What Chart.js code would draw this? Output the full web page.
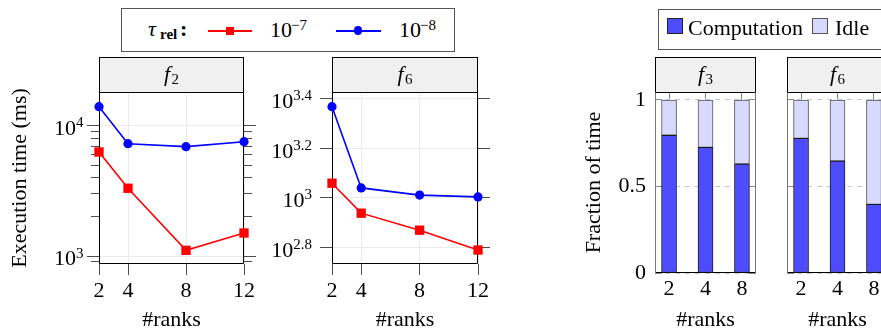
<!DOCTYPE html>
<html><head><meta charset="utf-8">
<script src="https://cdn.jsdelivr.net/npm/chart.js@4.4.1/dist/chart.umd.min.js"></script>
<style>
html,body{margin:0;padding:0;background:#fff;}
#wrap{position:relative;width:881px;height:333px;overflow:hidden;font-family:'Liberation Serif','Times New Roman',serif;color:#000;}
.pane{position:absolute;left:0;top:0;height:333px;}
.t{position:absolute;white-space:nowrap;}
.box{position:absolute;box-sizing:border-box;border:1px solid #555;background:#fff;}
</style></head><body>
<div id="wrap">
  <div class="pane" style="width:881px"><canvas id="cA"></canvas></div>
  <div class="pane" style="width:881px"><canvas id="cB"></canvas></div>
  <div class="pane" style="width:881px"><canvas id="cC"></canvas></div>
  <div class="pane" style="width:960px"><canvas id="cD"></canvas></div>

  <!-- legend 1 -->
  <div class="box" style="left:121px;top:8px;width:334px;height:44px;"></div>
  <span class="t" style="left:148px;top:18px;font-size:22px;line-height:22px;font-style:italic;">τ</span>
  <span class="t" style="left:160px;top:26.5px;font-size:15px;line-height:15px;font-weight:bold;">rel</span>
  <span class="t" style="left:180px;top:18px;font-size:22px;line-height:22px;font-weight:bold;">:</span>
  <div style="position:absolute;left:208px;top:30px;width:44px;height:1.6px;background:#f00;"></div>
  <div style="position:absolute;left:225.5px;top:26.5px;width:8.5px;height:8.5px;background:#f00;"></div>
  <span class="t" style="left:270px;top:19px;font-size:22px;line-height:22px;">10</span>
  <span class="t" style="left:291px;top:18px;font-size:15px;line-height:15px;">−7</span>
  <div style="position:absolute;left:336px;top:30px;width:45px;height:1.6px;background:#00f;"></div>
  <div style="position:absolute;left:353.7px;top:26.4px;width:8.8px;height:8.8px;border-radius:50%;background:#00f;"></div>
  <span class="t" style="left:399px;top:19px;font-size:22px;line-height:22px;">10</span>
  <span class="t" style="left:420px;top:18px;font-size:15px;line-height:15px;">−8</span>

  <!-- legend 2 -->
  <div class="box" style="left:658px;top:9px;width:300px;height:41px;"></div>
  <div style="position:absolute;box-sizing:border-box;left:667px;top:18px;width:16px;height:16px;background:#4d4dff;border:1px solid #222;"></div>
  <span class="t" style="left:688px;top:16.6px;font-size:22px;line-height:22px;">Computation</span>
  <div style="position:absolute;box-sizing:border-box;left:812px;top:18px;width:16px;height:16px;background:#d9d9ff;border:1px solid #555;"></div>
  <span class="t" style="left:835px;top:16.6px;font-size:22px;line-height:22px;">Idle</span>
</div>
<script>
// ---------- data ----------
const ranks = [2, 4, 8, 12];
const f2Tau7 = [6310, 3320, 1106, 1503];
const f2Tau8 = [14070, 7310, 6934, 7570];
const f6Tau7 = [1146, 867, 740, 615];
const f6Tau8 = [2338, 1097, 1026, 1009];
const f2MajorExp = [3, 4];
const f2MinorTicks = [900, 2000, 3000, 4000, 5000, 6000, 7000, 8000, 9000];
const f6MajorExp = [2.8, 3, 3.2, 3.4];
const f6MinorTicks = [];

const barRanks = ['2', '4', '8'];
const f3Comp = [0.796, 0.726, 0.630];
const f3Idle = [0.204, 0.274, 0.370];
const f6Comp = [0.778, 0.647, 0.397];
const f6Idle = [0.222, 0.353, 0.603];
const fracTicks = [0, 0.5, 1];

// ---------- setup ----------
const FONT = "'Liberation Serif','Times New Roman',serif";
Chart.defaults.font.family = FONT;
Chart.defaults.font.size = 22;
Chart.defaults.color = '#000';
const HEADER_H = 35;
const H = 333;

// header strip (grey box with italic f and upright subscript) + plot frame
const panelFrame = {
  id: 'panelFrame',
  beforeDraw(chart, args, o) {
    const {left, right, top} = chart.chartArea; const ctx = chart.ctx;
    ctx.save(); ctx.fillStyle = '#f0f0f0';
    ctx.fillRect(left, top - HEADER_H, right - left, HEADER_H);
    // header text
    ctx.fillStyle = '#000'; ctx.textBaseline = 'alphabetic'; ctx.textAlign = 'left';
    ctx.font = 'italic 22px ' + FONT;
    const fw = ctx.measureText(o.name).width;
    ctx.font = '15px ' + FONT;
    const sw = ctx.measureText(o.sub).width;
    const gap = 1.5;
    const x0 = (left + right) / 2 - (fw + gap + sw) / 2;
    ctx.font = 'italic 22px ' + FONT;
    ctx.fillText(o.name, x0, top - 11);
    ctx.font = '15px ' + FONT;
    ctx.fillText(o.sub, x0 + fw + gap, top - 8);
    ctx.restore();
  },
  beforeDatasetsDraw(chart, args, o) {
    const {left, right, top, bottom} = chart.chartArea; const ctx = chart.ctx;
    const l = Math.round(left) + 0.5, r = Math.round(right) - 0.5, t = Math.round(top) + 0.5,
          b = Math.round(bottom) - 0.5, h = Math.round(top - HEADER_H) + 0.5;
    ctx.save(); ctx.lineWidth = 1;
    ctx.strokeStyle = '#000';
    ctx.strokeRect(l, h, r - l, t - h);
    ctx.beginPath(); ctx.moveTo(l, t); ctx.lineTo(r, t); ctx.moveTo(l, b); ctx.lineTo(r, b); ctx.stroke();
    ctx.strokeStyle = o.side || '#000';
    ctx.beginPath(); ctx.moveTo(l, t); ctx.lineTo(l, b); ctx.moveTo(r, t); ctx.lineTo(r, b); ctx.stroke();
    ctx.restore();
  }
};

// log-axis tick labels 10^e with raised exponent, placed via the scale
const expLabels = {
  id: 'expLabels',
  afterDraw(chart, args, o) {
    if (!o || !o.items) return;
    const ctx = chart.ctx; const sc = chart.scales[o.axis];
    ctx.save(); ctx.fillStyle = '#000'; ctx.textBaseline = 'alphabetic'; ctx.textAlign = 'right';
    o.items.forEach(e => {
      const y = sc.getPixelForValue(Math.pow(10, e));
      const es = String(e);
      ctx.font = '15px ' + FONT;
      const ew = ctx.measureText(es).width;
      ctx.fillText(es, o.right, y + 1.5);
      ctx.font = '22px ' + FONT;
      ctx.fillText('10', o.right - ew, y + 9.3);
    });
    ctx.restore();
  }
};

function makeLine(id, c) {
  const majors = c.majorExp.map(e => Math.pow(10, e));
  const isMajor = v => majors.some(m => Math.abs(m - v) / m < 1e-9);
  const all = majors.concat(c.minor).sort((a, b) => a - b);
  const setTicks = s => { s.ticks = all.map(v => ({value: v})); };
  const tickCol = '#4d4d4d';
  return new Chart(document.getElementById(id), {
    type: 'line',
    data: { datasets: [
      { label: '1e-7', data: ranks.map((r, i) => ({x: r, y: c.s7[i]})), borderColor: '#ff0000', backgroundColor: '#ff0000',
        pointStyle: 'rect', pointRadius: 6.6, pointBorderWidth: 0, borderWidth: 1.6, clip: false },
      { label: '1e-8', data: ranks.map((r, i) => ({x: r, y: c.s8[i]})), borderColor: '#0000ff', backgroundColor: '#0000ff',
        pointStyle: 'circle', pointRadius: 4.6, pointBorderWidth: 0, borderWidth: 1.6, clip: false }
    ]},
    options: {
      animation: false, responsive: true, maintainAspectRatio: false,
      layout: { padding: { left: c.L - c.yW, right: c.W - c.R - c.y2W, top: c.T, bottom: H - c.B - c.xH } },
      plugins: {
        legend: {display: false}, tooltip: {enabled: false}, title: {display: false},
        expLabels: {axis: 'y', items: c.majorExp, right: c.labelRight},
        panelFrame: {name: c.header[0], sub: c.header[1]}
      },
      scales: {
        x: { type: 'linear', position: 'bottom', min: 2, max: 12,
             afterBuildTicks: s => { s.ticks = ranks.map(v => ({value: v})); },
             ticks: {autoSkip: false, maxRotation: 0, padding: 3.3, callback: v => String(v)},
             grid: {color: '#ebebeb', tickColor: tickCol, tickLength: 11, tickWidth: 1},
             border: {display: false},
             title: {display: true, text: '#ranks', padding: 0, color: '#000'},
             afterFit: s => { s.height = c.xH; s.paddingLeft = 0; s.paddingRight = 0; } },
        y: { type: 'logarithmic', position: 'left', min: c.yMin, max: c.yMax, afterBuildTicks: setTicks,
             ticks: {display: false},
             grid: {color: x => (x.tick && isMajor(x.tick.value)) ? '#ebebeb' : 'rgba(0,0,0,0)',
                    tickColor: tickCol, tickLength: 12, tickWidth: 1,
                    tickBorderDash: x => (x.tick && isMajor(x.tick.value)) ? [] : [0, 4, 100]},
             border: {display: false},
             title: {display: !!c.yTitle, text: c.yTitle || '', padding: 0, color: '#000'},
             afterFit: s => { s.width = c.yW; s.paddingTop = 0; s.paddingBottom = 0; } },
        y2: { type: 'logarithmic', position: 'right', min: c.yMin, max: c.yMax, afterBuildTicks: setTicks,
              ticks: {display: false},
              grid: {drawOnChartArea: false, color: tickCol, tickColor: tickCol, tickLength: 12, tickWidth: 1,
                     tickBorderDash: x => (x.tick && isMajor(x.tick.value)) ? [] : [8, 100]},
              border: {display: false},
              afterFit: s => { s.width = c.y2W; s.paddingTop = 0; s.paddingBottom = 0; } }
      }
    },
    plugins: [panelFrame, expLabels]
  });
}

function makeBar(id, c) {
  const innerW = c.R - c.L;
  return new Chart(document.getElementById(id), {
    type: 'bar',
    data: { datasets: [
      { label: 'Computation', data: c.comp.map((v, i) => ({x: i, y: v})), backgroundColor: '#4d4dff',
        borderColor: '#1a1a1a', borderWidth: 1, borderSkipped: false, barThickness: 15 },
      { label: 'Idle', data: c.idle.map((v, i) => ({x: i, y: v})), backgroundColor: '#d9d9ff',
        borderColor: '#555555', borderWidth: 1, borderSkipped: false, barThickness: 15 }
    ]},
    options: {
      animation: false, responsive: true, maintainAspectRatio: false,
      layout: { padding: { left: c.L - c.yW, right: c.W - c.R, top: c.T, bottom: H - c.B - c.xH } },
      plugins: {
        legend: {display: false}, tooltip: {enabled: false}, title: {display: false},
        panelFrame: {side: '#777', name: c.header[0], sub: c.header[1]}
      },
      scales: {
        x: { type: 'linear', position: 'bottom', stacked: true, offset: false, min: -0.385, max: 2.385,
             afterBuildTicks: s => { s.ticks = barRanks.map((r, i) => ({value: i})); },
             ticks: {autoSkip: false, maxRotation: 0, padding: 3.5, callback: v => barRanks[v]},
             grid: {offset: false, drawTicks: false, color: '#888'},
             border: {display: false, dash: [8, 3000]},
             title: {display: true, text: '#ranks', padding: 0, color: '#000'},
             afterFit: s => { s.height = c.xH; s.paddingLeft = 0; s.paddingRight = 0; } },
        y: { type: 'linear', position: 'left', stacked: true, min: 0, max: 1.046,
             afterBuildTicks: s => { s.ticks = fracTicks.map(v => ({value: v})); },
             ticks: {display: c.showY, padding: 9, callback: v => String(v)},
             grid: {drawTicks: false, color: '#c8c8c8'},
             border: {display: false, dash: [5, 5]},
             title: {display: !!c.yTitle, text: c.yTitle || '', padding: 0, color: '#000'},
             afterFit: s => { s.width = c.yW; s.paddingTop = 0; s.paddingBottom = 0; } },
        y2: { type: 'linear', position: 'right', min: 0, max: 1.046,
              afterBuildTicks: s => { s.ticks = fracTicks.map(v => ({value: v})); },
              ticks: {display: false},
              grid: {drawTicks: false, color: '#888'},
              border: {display: false, dash: [7, innerW - 14, 7, 3000]},
              afterFit: s => { s.width = 0; s.paddingTop = 0; s.paddingBottom = 0; } }
      }
    },
    plugins: [panelFrame]
  });
}

makeLine('cA', {W: 881, L: 99, R: 244, T: 92, B: 264, yW: 92, y2W: 20, xH: 69,
  yMin: 868, yMax: 18260, majorExp: f2MajorExp, minor: f2MinorTicks, s7: f2Tau7, s8: f2Tau8,
  header: ['f', '2'], yTitle: 'Execution time (ms)', labelRight: 83.5});
makeLine('cB', {W: 881, L: 332, R: 478, T: 92, B: 264, yW: 40, y2W: 20, xH: 69,
  yMin: 540, yMax: 2680, majorExp: f6MajorExp, minor: f6MinorTicks, s7: f6Tau7, s8: f6Tau8,
  header: ['f', '6'], yTitle: '', labelRight: 312});
makeBar('cC', {W: 881, L: 655, R: 756, T: 92, B: 273, yW: 74, xH: 60,
  comp: f3Comp, idle: f3Idle, header: ['f', '3'], yTitle: 'Fraction of time', showY: true});
makeBar('cD', {W: 960, L: 787, R: 888, T: 92, B: 273, yW: 0, xH: 60,
  comp: f6Comp, idle: f6Idle, header: ['f', '6'], yTitle: '', showY: false});
</script>
</body></html>
